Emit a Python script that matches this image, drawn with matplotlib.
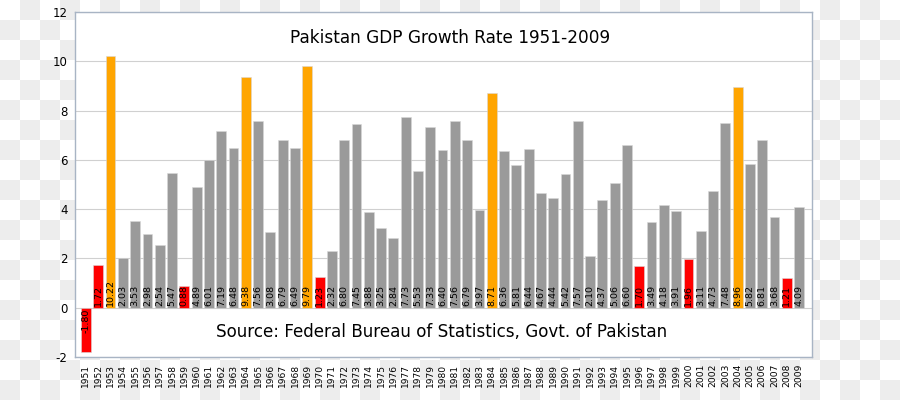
import numpy as np
from matplotlib import pyplot as plt

plt.rcParams['axes.unicode_minus'] = False

years = list(range(1951, 2010))
growth = [-1.80, 1.72, 10.22, 2.03, 3.53, 2.98, 2.54, 5.47, 0.88, 4.89,
          6.01, 7.19, 6.48, 9.38, 7.56, 3.08, 6.79, 6.49, 9.79, 1.23,
          2.32, 6.80, 7.45, 3.88, 3.25, 2.84, 7.73, 5.53, 7.33, 6.40,
          7.56, 6.79, 3.97, 8.71, 6.36, 5.81, 6.44, 4.67, 4.44, 5.42,
          7.57, 2.10, 4.37, 5.06, 6.60, 1.70, 3.49, 4.18, 3.91, 1.96,
          3.11, 4.73, 7.48, 8.96, 5.82, 6.81, 3.68, 1.21, 4.09]


def bar_colour(v):
    if v < 2:
        return '#ff0000'
    if v > 8:
        return '#ffa500'
    return '#9a9a9a'


fig = plt.figure(figsize=(9, 4), dpi=100)

# checkerboard background (transparent png look)
yy, xx = np.mgrid[0:400, 0:900]
board = ((xx // 20 + yy // 20) % 2).astype(float)
bg = np.where(board[..., None] == 1, 0.93, 1.0) * np.ones((400, 900, 3))
fig.figimage(bg, xo=0, yo=0, origin='upper', zorder=-10)

ax = fig.add_axes([0.0828, 0.1075, 0.8192, 0.8625])
ax.set_zorder(5)
ax.set_facecolor('white')

x = np.arange(len(years))
colours = [bar_colour(v) for v in growth]
ax.bar(x, growth, width=0.8, color=colours, edgecolor='#d8d8d8', linewidth=0.4, zorder=2)

for xi, v in zip(x, growth):
    va = 'bottom' if v >= 0 else 'top'
    ax.text(xi, 0.05 if v >= 0 else -0.05, f'{v:.2f}', rotation=90, ha='center', va=va,
            fontsize=6.8, color='black', zorder=3)

ax.set_xlim(-0.93, len(years) - 1 + 1.03)
ax.set_ylim(-2, 12)
ax.set_yticks(range(-2, 13, 2))
ax.yaxis.grid(True, color='#d0d0d0', linewidth=0.8, zorder=0)
ax.set_axisbelow(True)
ax.set_xticks(x)
ax.set_xticklabels([str(y) for y in years], rotation=90, fontsize=6.6)
ax.tick_params(axis='x', length=0, pad=5)
ax.tick_params(axis='y', length=0, labelsize=8.5, pad=5)

for s in ax.spines.values():
    s.set_color('#a8b4c4')
    s.set_linewidth(1)

ax.text(0.51, 0.925, 'Pakistan GDP Growth Rate 1951-2009', transform=ax.transAxes,
        ha='center', va='center', fontsize=12.2)
ax.text(28.9, -1.0, 'Source: Federal Bureau of Statistics, Govt. of Pakistan',
        ha='center', va='center', fontsize=12.1)

fig.savefig('out.png', dpi=100)
